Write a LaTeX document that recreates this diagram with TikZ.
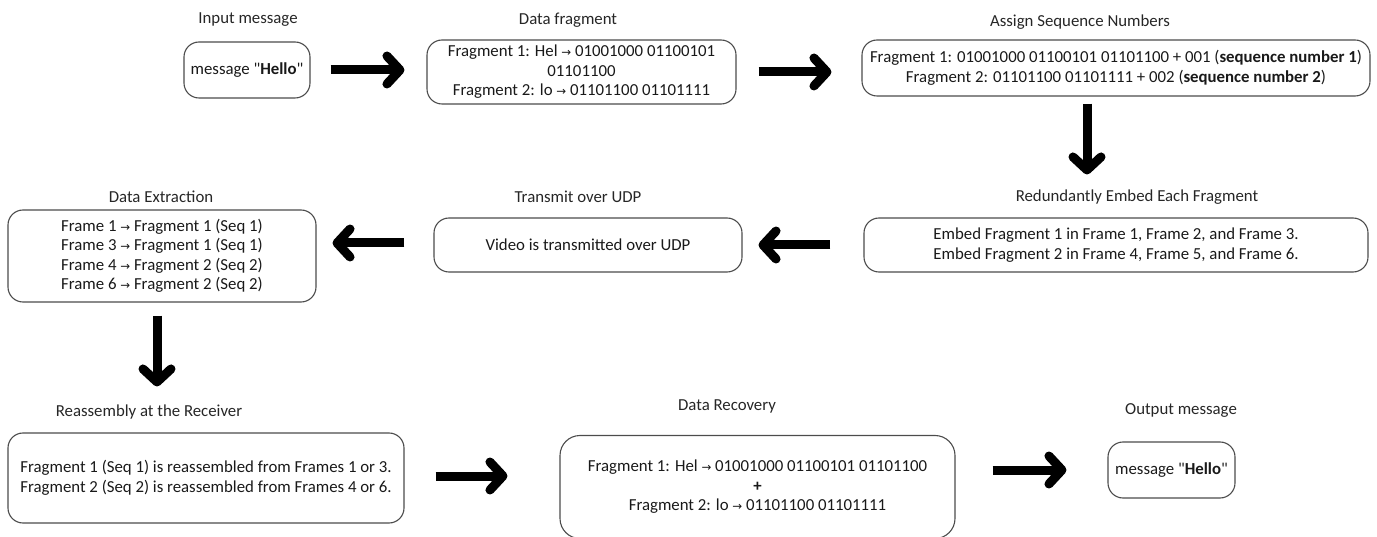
\documentclass[tikz,border=0pt]{standalone}
\usepackage{fontspec}
\setmainfont{Carlito}
\newfontfamily\symfont{DejaVu Sans}[Scale=0.7]
\usetikzlibrary{arrows.meta}
\newcommand{\rarr}{{\symfont →}}
\newcommand{\qt}{\textquotedbl}

\begin{document}
\begin{tikzpicture}[x=1pt,y=-1pt,font=\fontsize{16.8}{19.5}\selectfont,
                    bigarrow/.style={-{Straight Barb[round,length=13pt,width=28pt]},
                                     line width=9pt,draw=black}]
  \tikzstyle{box}=[draw=black!70,line width=1.1pt,rounded corners=15pt,align=center,
                   inner sep=0pt,text=black!90]
  \tikzstyle{title}=[text=black!85]

  \useasboundingbox (0,0) rectangle (1377,537);

  % titles
  \node[title] (t1) at (248,20)  {Input message};
  \node[title] (t2) at (568,20)  {Data fragment};
  \node[title] (t3) at (1080,22) {Assign Sequence Numbers};
  \node[title] (t4) at (1137,197) {Redundantly Embed Each Fragment};
  \node[title] (t5) at (578,197) {Transmit over UDP};
  \node[title] (t6) at (161,197) {Data Extraction};
  \node[title] (t7) at (149,412) {Reassembly at the Receiver};
  \node[title] (t8) at (727,406) {Data Recovery};
  \node[title] (t9) at (1181,410) {Output message};

  % boxes
  \node[box,minimum width=126pt,minimum height=56pt] (b1) at (247,70)
       {message \qt\textbf{Hello}\qt};
  \node[box,minimum width=309pt,minimum height=64pt] (b2) at (581.5,72)
       {Fragment 1: Hel \rarr{} 01001000 01100101\\01101100\\Fragment 2: lo \rarr{} 01101100 01101111};
  \node[box,minimum width=508pt,minimum height=56pt] (b3) at (1116,68)
       {Fragment 1: 01001000 01100101 01101100 + 001 (\textbf{sequence number 1})\\
        Fragment 2: 01101100 01101111 + 002 (\textbf{sequence number 2})};
  \node[box,minimum width=504pt,minimum height=54pt] (b4) at (1116,245)
       {Embed Fragment 1 in Frame 1, Frame 2, and Frame 3.\\
        Embed Fragment 2 in Frame 4, Frame 5, and Frame 6.};
  \node[box,minimum width=308pt,minimum height=54pt] (b5) at (588,245)
       {Video is transmitted over UDP};
  \node[box,minimum width=308pt,minimum height=92pt] (b6) at (162,256)
       {Frame 1 \rarr{} Fragment 1 (Seq 1)\\Frame 3 \rarr{} Fragment 1 (Seq 1)\\
        Frame 4 \rarr{} Fragment 2 (Seq 2)\\Frame 6 \rarr{} Fragment 2 (Seq 2)};
  \node[box,minimum width=396pt,minimum height=90pt] (b7) at (206,478)
       {Fragment 1 (Seq 1) is reassembled from Frames 1 or 3.\\
        Fragment 2 (Seq 2) is reassembled from Frames 4 or 6.};
  \node[box,minimum width=395pt,minimum height=103pt,rounded corners=20pt] (b8) at (757.5,487)
       {Fragment 1: Hel \rarr{} 01001000 01100101 01101100\\\textbf{+}\\
        Fragment 2: lo \rarr{} 01101100 01101111};
  \node[box,minimum width=127pt,minimum height=56pt] (b9) at (1171.5,470)
       {message \qt\textbf{Hello}\qt};

  % connectors
  \path (b1.east)  edge[bigarrow,shorten <=20pt,shorten >=22pt] (b1.east -| b2.west)
        (b2.east)  edge[bigarrow,shorten <=22pt,shorten >=30pt] (b2.east -| b3.west)
        ([xshift=-29pt]b3.south) edge[bigarrow,shorten <=7pt,shorten >=43pt]
                                   ([xshift=-29pt]b3.south |- b4.north)
        (b4.west)  edge[bigarrow,shorten <=33pt,shorten >=16pt] (b4.west -| b5.east)
        ([yshift=2pt]b5.west) edge[bigarrow,shorten <=29pt,shorten >=16pt]
                                   ([yshift=2pt]b5.west -| b6.east)
        ([xshift=-5pt]b6.south) edge[bigarrow,shorten <=13pt,shorten >=46pt]
                                   ([xshift=-5pt]b6.south |- b7.north)
        ([yshift=2pt]b7.east) edge[bigarrow,shorten <=31pt,shorten >=52pt]
                                   ([yshift=2pt]b7.east -| b8.west)
        ([yshift=17pt]b8.east) edge[bigarrow,shorten <=37pt,shorten >=41pt]
                                   ([yshift=17pt]b8.east -| b9.west);
\end{tikzpicture}
\end{document}
